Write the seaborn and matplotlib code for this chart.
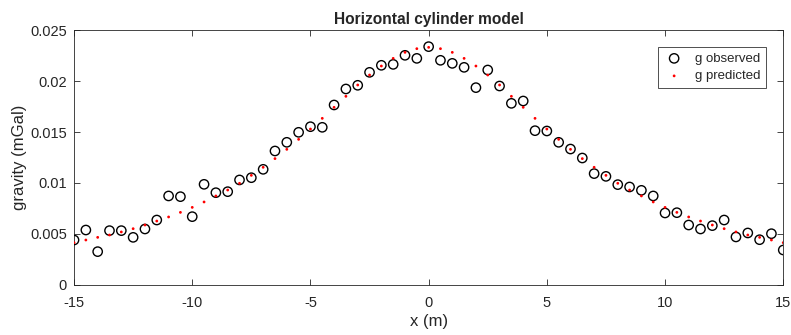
import matplotlib
matplotlib.use("Agg")
import matplotlib.pyplot as plt
import seaborn as sns
import pandas as pd
import numpy as np

x_m = [-15, -14.5, -14, -13.5, -13, -12.5, -12, -11.5, -11, -10.5, -10, -9.5, -9, -8.5, -8, -7.5,
       -7, -6.5, -6, -5.5, -5, -4.5, -4, -3.5, -3, -2.5, -2, -1.5, -1, -0.5, 0,
       0.5, 1, 1.5, 2, 2.5, 3, 3.5, 4, 4.5, 5, 5.5, 6, 6.5, 7, 7.5, 8, 8.5, 9, 9.5, 10,
       10.5, 11, 11.5, 12, 12.5, 13, 13.5, 14, 14.5, 15]

g_observed = [0.00441, 0.00539, 0.00327, 0.00533, 0.00533, 0.00467, 0.00549, 0.00637, 0.00873, 0.00866,
              0.0067, 0.00987, 0.00905, 0.00915, 0.0103, 0.01052, 0.01134, 0.01314, 0.01399, 0.01497,
              0.01552, 0.01546, 0.01765, 0.01922, 0.01958, 0.02085, 0.02154, 0.02163, 0.02252, 0.02222,
              0.02337, 0.02203, 0.02173, 0.02134, 0.01935, 0.02108, 0.01951, 0.01781, 0.01804, 0.01513,
              0.0151, 0.01399, 0.01333, 0.01245, 0.01092, 0.01065, 0.00984, 0.00961, 0.00928, 0.00873,
              0.00706, 0.00709, 0.00588, 0.00549, 0.00582, 0.00637, 0.00471, 0.0051, 0.00444, 0.00503,
              0.00343]

g_predicted = [0.00415, 0.00441, 0.00467, 0.0049, 0.0052, 0.00552, 0.00588, 0.00627, 0.00667, 0.00712,
               0.00761, 0.00814, 0.00873, 0.00931, 0.00997, 0.01075, 0.01154, 0.01239, 0.0133, 0.01428,
               0.01529, 0.01634, 0.01742, 0.0185, 0.01961, 0.02059, 0.02147, 0.02222, 0.02281, 0.02317,
               0.0233, 0.02317, 0.02281, 0.02222, 0.02147, 0.02059, 0.01961, 0.0185, 0.01742, 0.01634,
               0.01529, 0.01428, 0.0133, 0.01239, 0.01154, 0.01075, 0.00997, 0.00931, 0.00873, 0.00814,
               0.00761, 0.00712, 0.00667, 0.00627, 0.00588, 0.00552, 0.0052, 0.0049, 0.00467, 0.00441,
               0.00415]

x_ticks = [-15, -10, -5, 0, 5, 10, 15]
y_ticks = [0, 0.005, 0.01, 0.015, 0.02, 0.025]
y_tick_labels = ["0", "0.005", "0.01", "0.015", "0.02", "0.025"]

sns.set_theme(style="ticks")
plt.rcParams['font.family'] = ['Liberation Sans', 'DejaVu Sans']
plt.rcParams['xtick.direction'] = 'in'
plt.rcParams['ytick.direction'] = 'in'
plt.rcParams['axes.unicode_minus'] = False

df = pd.DataFrame({"x": x_m, "obs": g_observed, "pred": g_predicted})

fig = plt.figure(figsize=(7.91, 3.35), dpi=100)
ax = fig.add_axes([0.0936, 0.1493, 0.8966, 0.7611])

sns.scatterplot(data=df, x="x", y="obs", ax=ax, marker="o", s=45, facecolors="none",
                edgecolor="black", linewidth=1.0, label="g observed", zorder=3)
sns.scatterplot(data=df, x="x", y="pred", ax=ax, marker="o", s=4, color="red",
                edgecolor="none", label="g predicted", zorder=4)

ax.set_xlim(-15, 15)
ax.set_ylim(0, 0.025)
ax.set_xticks(x_ticks)
ax.set_xticklabels([str(t) for t in x_ticks])
ax.set_yticks(y_ticks)
ax.set_yticklabels(y_tick_labels)
ax.tick_params(axis="both", labelsize=10.5, colors="#262626", length=4, width=0.6,
               top=True, right=True)
ax.tick_params(axis="x", pad=8)
ax.tick_params(axis="y", pad=5)
for sp in ax.spines.values():
    sp.set_color("#262626")
    sp.set_linewidth(0.6)
    sp.set_visible(True)

ax.set_xlabel("x (m)", fontsize=12, color="#262626", labelpad=3)
ax.set_ylabel("gravity (mGal)", fontsize=12, color="#262626", labelpad=2)
ax.set_title("Horizontal cylinder model", fontsize=11.2, fontweight="bold", pad=4)

leg = ax.legend(loc="upper right", bbox_to_anchor=(0.985, 0.958), fontsize=9.5, frameon=True,
                fancybox=False, edgecolor="black", handletextpad=0.8, borderpad=0.4,
                labelspacing=0.4, markerscale=1.0, handlelength=1.6)
leg.get_frame().set_linewidth(0.6)

fig.savefig("out.png", dpi=100)
